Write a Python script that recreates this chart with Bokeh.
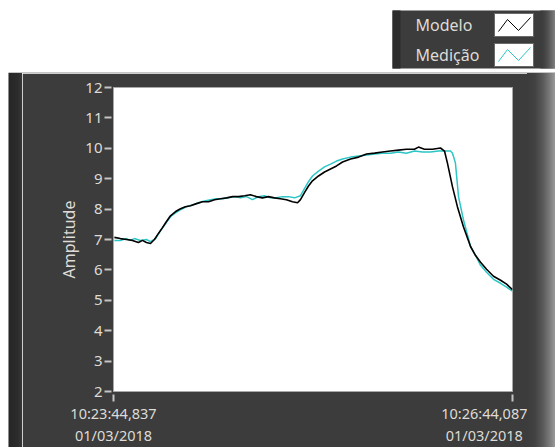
from bokeh.plotting import figure
from bokeh.layouts import column, row
from bokeh.models import Range1d, FixedTicker, Div, Title
from bokeh.core.properties import value
from bokeh.embed import file_html
from bokeh.resources import INLINE

# ---------------- data ----------------
series_names = ["Modelo", "Medição"]

t_modelo = [0.4, 3.1, 5.8, 8.5, 11.2, 13.0, 14.8, 16.6, 18.4, 20.2, 22.0, 23.8, 25.6, 27.9,
            30.1, 32.3, 34.6, 37.3, 40.0, 42.7, 45.4, 48.1, 50.8, 53.5, 56.2, 58.9, 61.5,
            64.2, 66.9, 69.6, 72.3, 75.0, 77.7, 80.4, 82.7, 84.0, 85.8, 87.6, 89.4, 92.1,
            94.8, 97.5, 100.2, 102.9, 106.5, 110.1, 113.7, 117.3, 120.8, 124.4, 128.0,
            131.6, 135.2, 137.0, 139.7, 143.3, 146.9, 148.7, 150.0, 152.3, 154.5, 157.2,
            160.4, 162.6, 164.9, 167.6, 170.7, 173.9, 176.6, 179.25]
v_modelo = [7.07, 7.03, 7.00, 6.97, 6.90, 6.97, 6.90, 6.87, 7.00, 7.20, 7.39, 7.59, 7.78, 7.92,
            8.01, 8.08, 8.11, 8.18, 8.24, 8.24, 8.31, 8.34, 8.37, 8.41, 8.41, 8.44, 8.47,
            8.41, 8.37, 8.41, 8.37, 8.34, 8.31, 8.24, 8.21, 8.31, 8.54, 8.76, 8.93, 9.09,
            9.22, 9.32, 9.42, 9.55, 9.65, 9.71, 9.81, 9.84, 9.88, 9.91, 9.94,
            9.97, 9.97, 10.04, 9.97, 9.97, 10.01, 9.91, 9.52, 8.73, 8.08, 7.42,
            6.77, 6.48, 6.25, 6.02, 5.79, 5.66, 5.53, 5.35]

t_medicao = [0.4, 3.1, 5.8, 7.6, 9.4, 12.1, 14.8, 16.6, 18.9, 21.1, 23.4, 25.6, 27.9, 30.1,
             32.8, 35.5, 38.2, 40.9, 43.6, 46.3, 49.0, 51.7, 54.4, 57.1, 59.8, 62.4, 65.1,
             67.8, 70.5, 73.2, 75.9, 78.6, 81.3, 84.0, 85.8, 87.6, 89.4, 92.1, 94.8, 97.5,
             100.2, 102.9, 106.5, 110.1, 113.7, 117.3, 120.8, 124.4, 128.0, 131.6, 135.2,
             138.8, 142.4, 146.0, 149.6, 151.4, 152.3, 153.6, 155.0, 157.2, 160.4, 163.1,
             164.9, 167.6, 170.7, 173.9, 176.6, 179.25]
v_medicao = [6.97, 6.97, 7.03, 6.97, 7.03, 6.97, 7.00, 6.93, 7.03, 7.29, 7.52, 7.75, 7.88, 7.98,
             8.08, 8.14, 8.21, 8.27, 8.31, 8.34, 8.34, 8.37, 8.41, 8.37, 8.41, 8.31, 8.41,
             8.44, 8.37, 8.37, 8.41, 8.41, 8.37, 8.44, 8.67, 8.90, 9.09, 9.25, 9.39, 9.48,
             9.58, 9.65, 9.71, 9.75, 9.78, 9.81, 9.84, 9.84, 9.88, 9.84, 9.91,
             9.88, 9.88, 9.91, 9.91, 9.91, 9.84, 9.52, 8.41, 7.65, 6.77, 6.41,
             6.15, 5.92, 5.69, 5.56, 5.43, 5.30]

x_start, x_end = 0.0, 179.25
x_tick_values = [0.0, 179.25]
x_tick_labels = ["10:23:44,837\n01/03/2018", "10:26:44,087\n01/03/2018"]
y_ticks = [2, 3, 4, 5, 6, 7, 8, 9, 10, 11, 12]
y_label = "Amplitude"

# ---------------- style ----------------
PANEL = "#3c3c3c"
PANEL_DARK = "#2c2c2c"
TXT = "#dedbd6"
FONT = "Noto Sans"
CYAN = "#2cc6c6"
W, H = 555, 447
TOP_H = 73
BOT_H = H - TOP_H


def blank(fig):
    fig.axis.visible = False
    fig.grid.visible = False
    fig.outline_line_color = None
    return fig


def grad_colors(n, c0=60, c1=150):
    cols = []
    for i in range(n):
        f = (i / (n - 1)) ** 1.6
        c = int(c0 + (c1 - c0) * f)
        cols.append("#%02x%02x%02x" % (c, c, c))
    return cols


# ---------------- legend strip (top) ----------------
top = figure(width=W, height=TOP_H, output_backend="svg", toolbar_location=None,
             x_range=Range1d(0, W), y_range=Range1d(TOP_H, 0), min_border=0,
             background_fill_color="white", border_fill_color="white")
blank(top)
top.quad(left=392, right=W, top=10, bottom=68, fill_color=PANEL, line_color=None)
top.quad(left=392, right=400, top=10, bottom=68, fill_color=PANEL_DARK, line_color=None)
gc = grad_colors(15)
top.quad(left=[540 + i for i in range(15)], right=[541 + i for i in range(15)],
         top=10, bottom=68, fill_color=gc, line_color=None)
top.quad(left=8, right=W, top=72, bottom=TOP_H, fill_color="#8c8c8c", line_color=None)
sw_left, sw_right = 494, 533
for i, (name, col) in enumerate(zip(series_names, ["#000000", CYAN])):
    y0 = 13 + 30 * i
    y1 = y0 + 23
    top.quad(left=sw_left, right=sw_right, top=y0, bottom=y1, fill_color="white",
             line_color="#6a6a6a", line_width=1)
    zx = [sw_left + 4, sw_left + 13, sw_left + 24, sw_right - 3]
    zy = [y1 - 5, y0 + 6, y1 - 6, y0 + 4]
    top.line(zx, zy, line_color=col, line_width=1)
    top.text(x=[415], y=[(y0 + y1) / 2], text=[name], text_color=TXT,
             text_font=value(FONT), text_font_size="16px",
             text_baseline="middle", text_align="left")

# ---------------- main chart ----------------
p = figure(width=505, height=BOT_H, output_backend="svg", toolbar_location=None,
           x_range=Range1d(x_start, x_end), y_range=Range1d(2, 12),
           min_border_left=91, min_border_right=15, min_border_top=14, min_border_bottom=54,
           background_fill_color="white", border_fill_color=PANEL,
           outline_line_color="#a8a8a8", outline_line_width=1)
p.grid.visible = False

p.line(t_medicao, v_medicao, line_color=CYAN, line_width=1.5)
p.line(t_modelo, v_modelo, line_color="#000000", line_width=1.6)

p.yaxis.ticker = FixedTicker(ticks=y_ticks)
p.xaxis.ticker = FixedTicker(ticks=x_tick_values)
p.xaxis.major_label_overrides = {k: v for k, v in zip(x_tick_values, x_tick_labels)}

for ax in (p.xaxis[0], p.yaxis[0]):
    ax.axis_line_color = None
    ax.minor_tick_line_color = None
    ax.major_tick_line_color = "#c4c4c4"
    ax.major_tick_line_width = 2
    ax.major_label_text_color = TXT
    ax.major_label_text_font = FONT

p.yaxis.major_tick_in = -2
p.yaxis.major_tick_out = 9
p.yaxis.major_label_standoff = 2
p.yaxis.major_label_text_font_size = "15px"

p.add_layout(Title(text=y_label, align="center", offset=14, standoff=5,
                   text_color=TXT, text_font=FONT, text_font_size="16px",
                   text_font_style="normal"), "left")

p.xaxis.major_tick_in = -3
p.xaxis.major_tick_out = 10
p.xaxis.major_label_standoff = 1
p.xaxis.major_label_text_font_size = "14.5px"
p.xaxis.major_label_text_line_height = 1.1

# ---------------- side strips (plain HTML blocks, no plot frame) ----------------
left = Div(text="", width=22, height=BOT_H, margin=(0, 0, 0, 0),
           styles={"background": "linear-gradient(to right, #ffffff 0px, #ffffff 8px, "
                                 "#8c8c8c 8px, #8c8c8c 9px, #262626 9px, #2c2c2c 18px, "
                                 "#383838 22px)"})
right = Div(text="", width=28, height=BOT_H, margin=(0, 0, 0, 0),
            styles={"background": "linear-gradient(to right, #3c3c3c 0px, #424242 8px, "
                                  "#5a5a5a 16px, #7c7c7c 23px, #9a9a9a 28px)"})

layout = column(top, row(left, p, right, spacing=0), spacing=0)

open("out.html", "w").write(file_html(layout, INLINE))
